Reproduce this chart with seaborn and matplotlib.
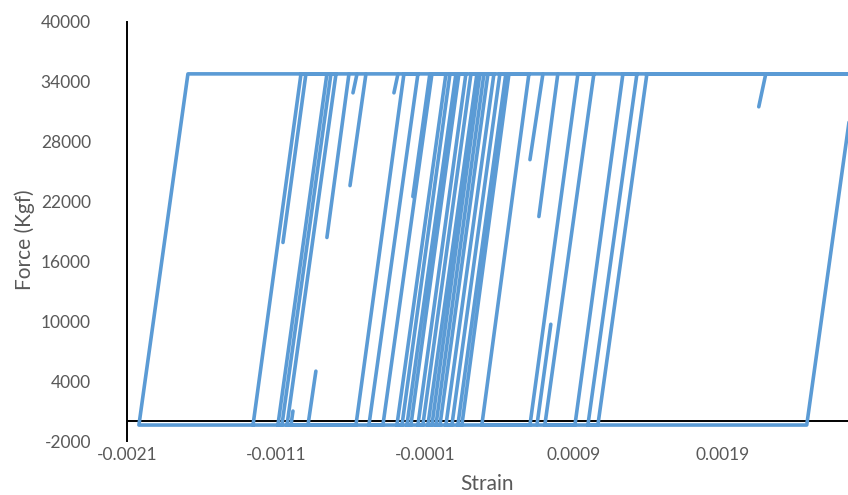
import numpy as np
import pandas as pd
import seaborn as sns
import matplotlib.pyplot as plt

# plateau levels of the force (Kgf)
top_force = 34800
bottom_force = -400
plateau_end = 0.0032  # the upper plateau runs on past the right edge

# full branches, left to right: strain where each meets the lower and the upper plateau
branch_bottom = [-0.002020, -0.001254, -0.001087, -0.001060, -0.001026, -0.000563, -0.000476,
                 -0.000382, -0.000288, -0.000254, -0.000221, -0.000194, -0.000147, -0.000114,
                 -0.000080, -0.000053, -0.000026, 0.000001, 0.000041, 0.000081, 0.000121,
                 0.000148, 0.000282, 0.000605, 0.000705, 0.000907, 0.000994, 0.001061, 0.002463]
branch_top = [-0.001691, -0.000932, -0.000758, -0.000731, -0.000697, -0.000241, -0.000147,
              -0.000053, 0.000041, 0.000068, 0.000108, 0.000128, 0.000175, 0.000209,
              0.000249, 0.000269, 0.000296, 0.000323, 0.000363, 0.000403, 0.000443,
              0.000464, 0.000598, 0.000927, 0.001034, 0.001229, 0.001323, 0.001390, 0.002792]

# partial branches that turn back before reaching the other plateau
stub_start_strain = [-0.000899, -0.000610, -0.000496, -0.000556, -0.000281, -0.000067,
                     0.000692, 0.000792, 0.002188, -0.000885, -0.000999, 0.000652]
stub_start_force = [34800, 34800, 34800, 34800, 34800, 34800,
                    34800, 34800, 34800, -400, -400, -400]
stub_end_strain = [-0.001053, -0.000758, -0.000603, -0.000583, -0.000308, -0.000181,
                   0.000605, 0.000665, 0.002141, -0.000832, -0.000986, 0.000745]
stub_end_force = [17900, 18400, 23600, 32900, 32900, 22500,
                  26200, 20500, 31500, 5000, 1000, 9700]

x_ticks = [-0.0021, -0.0011, -0.0001, 0.0009, 0.0019]
x_tick_labels = ["-0.0021", "-0.0011", "-0.0001", "0.0009", "0.0019"]
y_ticks = [-2000, 4000, 10000, 16000, 22000, 28000, 34000, 40000]

# outer loop first, then zigzag back through the inner branches
px = [plateau_end, branch_top[0], branch_bottom[0], branch_bottom[-1], branch_top[-1], plateau_end]
py = [top_force, top_force, bottom_force, bottom_force, top_force, top_force]
down = True
for b, t in zip(branch_bottom[-2:0:-1], branch_top[-2:0:-1]):
    if down:
        px += [t, b]
        py += [top_force, bottom_force]
    else:
        px += [b, t]
        py += [bottom_force, top_force]
    down = not down

rows = [(x, y, 0) for x, y in zip(px, py)]
for i in range(len(stub_end_force)):
    rows.append((stub_start_strain[i], stub_start_force[i], i + 1))
    rows.append((stub_end_strain[i], stub_end_force[i], i + 1))
df = pd.DataFrame(rows, columns=["strain", "force", "seg"])

sns.set_theme(style="white")
plt.rcParams["font.family"] = ["Lato", "DejaVu Sans"]

fig = plt.figure(figsize=(8.48, 4.95), dpi=100)
ax = fig.add_axes([127 / 848, 54 / 495, 721 / 848, 419 / 495])

ax.axhline(0, color="black", lw=1.4, zorder=1)
sns.lineplot(data=df, x="strain", y="force", units="seg", estimator=None, sort=False,
             color="#5B9BD5", lw=2.6, legend=False, ax=ax, zorder=2)

ax.set_xlim(-0.0021, 0.00274)
ax.set_ylim(-2000, 40000)
ax.set_xticks(x_ticks)
ax.set_xticklabels(x_tick_labels)
ax.set_yticks(y_ticks)
ax.set_yticklabels([str(v) for v in y_ticks])

for s in ["top", "right", "bottom"]:
    ax.spines[s].set_visible(False)
ax.spines["left"].set_color("black")
ax.spines["left"].set_linewidth(1.4)

ax.tick_params(axis="both", length=0, labelsize=12.5, labelcolor="#595959")
ax.tick_params(axis="y", pad=26)
ax.tick_params(axis="x", pad=4)

ax.set_xlabel("Strain", fontsize=15, color="#595959")
ax.set_ylabel("Force (Kgf)", fontsize=15, color="#595959")
ax.xaxis.set_label_coords(0.5, -0.079)
ax.yaxis.set_label_coords(-0.127, 0.48)

fig.savefig("out.png", dpi=100)
